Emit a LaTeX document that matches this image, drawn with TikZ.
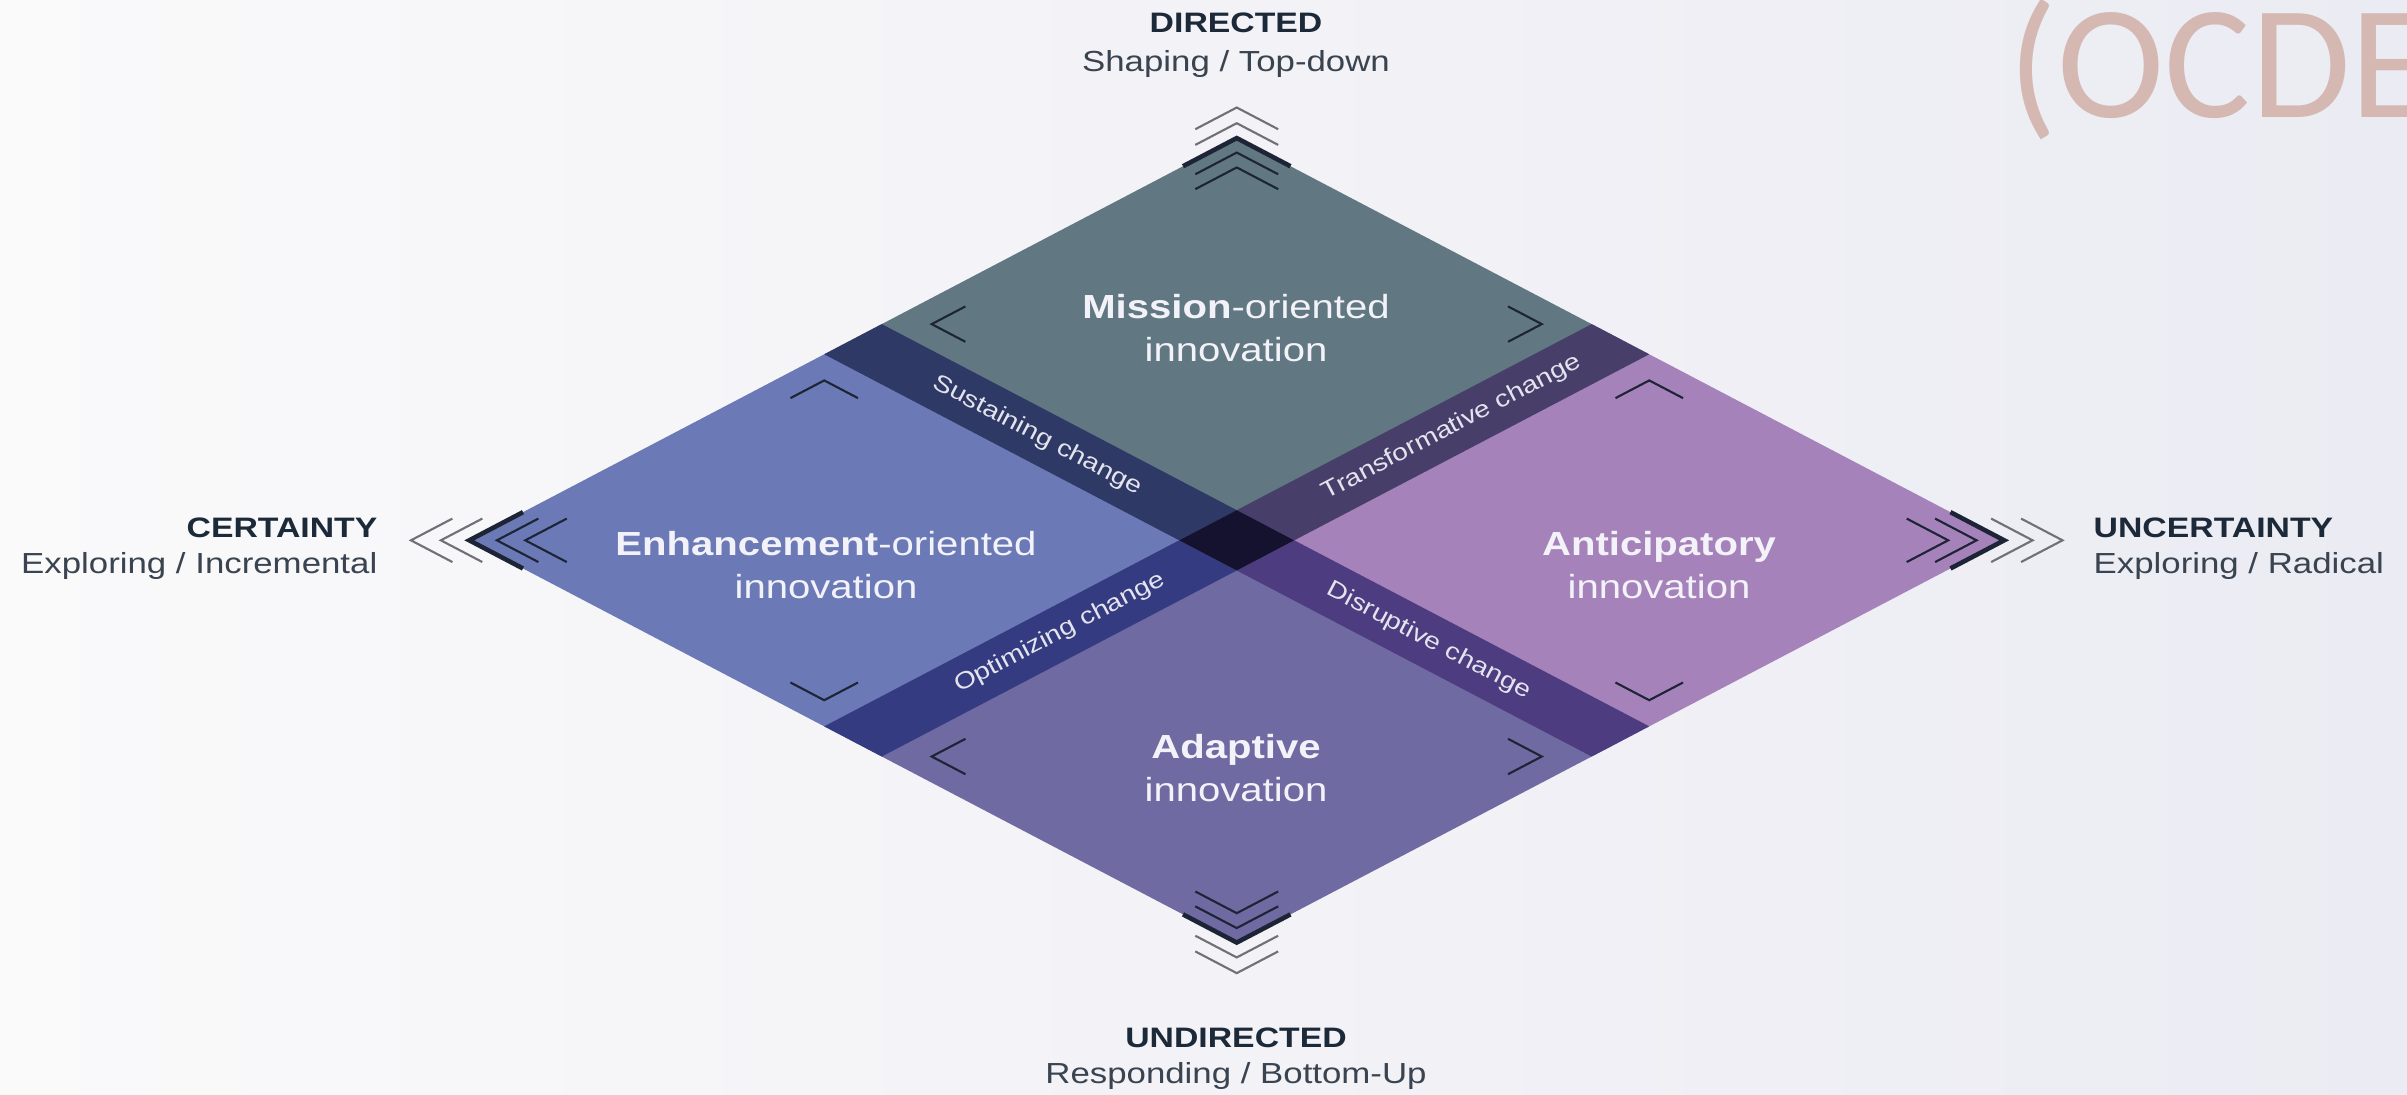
\documentclass[tikz,border=0pt]{standalone}
\usepackage{fontspec}
\setmainfont{Liberation Sans}[FakeStretch=1.2]
\newfontfamily\ocdefont{Carlito}
\definecolor{bgL}{HTML}{FAFAFB}
\definecolor{bgR}{HTML}{EBEBF3}
\definecolor{cMis}{HTML}{617882}
\definecolor{cEnh}{HTML}{6B7AB6}
\definecolor{cAnt}{HTML}{A682BB}
\definecolor{cAda}{HTML}{6F6AA2}
\definecolor{bSus}{HTML}{2E3966}
\definecolor{bTra}{HTML}{473F6A}
\definecolor{bOpt}{HTML}{353B80}
\definecolor{bDis}{HTML}{4D3C7F}
\definecolor{cCtr}{HTML}{15122F}
\definecolor{navy}{HTML}{1D2436}
\definecolor{grayc}{HTML}{707075}
\definecolor{headc}{HTML}{1C2939}
\definecolor{subc}{HTML}{3A4450}
\definecolor{qtextc}{HTML}{F2F2F8}
\definecolor{btextc}{HTML}{E4E4EE}
\definecolor{ocdec}{HTML}{D4B8B1}
\def\chevD{0.065}
\def\chevL{0.088}
\def\armA{0.108}
\def\thk{0.14}
\def\bw{0.075}
% quadrant corner chevron: pc qc sp sq
\newcommand{\qchev}[4]{%
  \draw[qchevst] ({#1+#3*(\chevD+\chevL)},{#2+#4*\chevD}) -- ({#1+#3*\chevD},{#2+#4*\chevD}) -- ({#1+#3*\chevD},{#2+#4*(\chevD+\chevL)});}
% vertex chevron: vp vq d style
\newcommand{\vchev}[4]{%
  \draw[#4] ({#1*(1-#3)-#1*\armA},{#2*(1-#3)}) -- ({#1*(1-#3)},{#2*(1-#3)}) -- ({#1*(1-#3)},{#2*(1-#3)-#2*\armA});}
\newcommand{\vthick}[2]{%
  \draw[thickst] ({#1*(1-\thk)},#2) -- (#1,#2) -- (#1,{#2*(1-\thk)});}
\begin{document}
\begin{tikzpicture}[x=0.01cm,y=-0.01cm,
  qchevst/.style={draw=navy,line width=0.6pt},
  inchev/.style={draw=navy,line width=0.6pt},
  outchev/.style={draw=grayc,line width=0.6pt},
  thickst/.style={draw=navy,line width=1.3pt,line join=miter},
  qtxt/.style={text=qtextc,align=center,font=\fontsize{9.5}{12.2}\selectfont},
  btxt/.style={text=btextc,font=\fontsize{6.7}{8}\selectfont,inner sep=0pt},
  head/.style={text=headc,font=\fontsize{8}{9}\selectfont\bfseries,inner sep=0pt},
  sub/.style={text=subc,font=\fontsize{8.25}{9.5}\selectfont,inner sep=0pt}]
\useasboundingbox (0,0) rectangle (2407,1094);
\shade[left color=bgL,right color=bgR] (0,0) rectangle (2407,1094);

\begin{scope}[shift={(12.36cm,-5.40cm)},x={(3.835cm,2.01cm)},y={(-3.835cm,2.01cm)}]
  % quadrants
  \fill[cMis] (0,0) -- (1,0) -- (1,1) -- (0,1) -- cycle;
  \fill[cAnt] (0,0) -- (1,0) -- (1,-1) -- (0,-1) -- cycle;
  \fill[cAda] (0,0) -- (-1,0) -- (-1,-1) -- (0,-1) -- cycle;
  \fill[cEnh] (0,0) -- (-1,0) -- (-1,1) -- (0,1) -- cycle;
  % bands
  \fill[bSus] (-\bw,\bw) -- (\bw,\bw) -- (\bw,1) -- (-\bw,1) -- cycle;
  \fill[bDis] (-\bw,-\bw) -- (\bw,-\bw) -- (\bw,-1) -- (-\bw,-1) -- cycle;
  \fill[bTra] (\bw,-\bw) -- (1,-\bw) -- (1,\bw) -- (\bw,\bw) -- cycle;
  \fill[bOpt] (-\bw,-\bw) -- (-1,-\bw) -- (-1,\bw) -- (-\bw,\bw) -- cycle;
  \fill[cCtr] (-\bw,-\bw) -- (\bw,-\bw) -- (\bw,\bw) -- (-\bw,\bw) -- cycle;
  % band labels
  \node[btxt,rotate=-27.66] (sus) at (0,0.52) {Sustaining change};
  \node[btxt,rotate=27.66] (tra) at (0.56,0) {Transformative change};
  \node[btxt,rotate=27.66] (opt) at (-0.46,0) {Optimizing change};
  \node[btxt,rotate=-27.66] (dis) at (0,-0.5) {Disruptive change};
  % quadrant corner chevrons
  \qchev{\bw}{1}{1}{-1}
  \qchev{1}{\bw}{-1}{1}
  \qchev{1}{-\bw}{-1}{-1}
  \qchev{\bw}{-1}{1}{1}
  \qchev{-1}{-\bw}{1}{-1}
  \qchev{-\bw}{-1}{-1}{1}
  \qchev{-\bw}{1}{-1}{-1}
  \qchev{-1}{\bw}{1}{1}
  % vertex decorations
  \foreach \vp/\vq in {1/1,1/-1,-1/-1,-1/1}{
    \vthick{\vp}{\vq}
    \vchev{\vp}{\vq}{0.036}{inchev}
    \vchev{\vp}{\vq}{0.073}{inchev}
    \vchev{\vp}{\vq}{-0.037}{outchev}
    \vchev{\vp}{\vq}{-0.076}{outchev}
  }
\end{scope}

% quadrant titles
\node[qtxt] (mis) at (1236,328) {\textbf{Mission}-oriented\\innovation};
\node[qtxt] (enh) at (826,565) {\textbf{Enhancement}-oriented\\innovation};
\node[qtxt] (ant) at (1659,565) {\textbf{Anticipatory}\\innovation};
\node[qtxt] (ada) at (1236,768) {\textbf{Adaptive}\\innovation};

% axis labels
\node[head,anchor=base] (dir) at (1236,33) {DIRECTED};
\node[sub,anchor=base] (dirs) at (1236,72) {Shaping / Top-down};
\node[head,anchor=base] (und) at (1236,1047) {UNDIRECTED};
\node[sub,anchor=base] (unds) at (1236,1083) {Responding / Bottom-Up};
\node[head,anchor=base east] (cer) at (378,537) {CERTAINTY};
\node[sub,anchor=base east] (cers) at (378,573) {Exploring / Incremental};
\node[head,anchor=base west] (unc) at (2093,537) {UNCERTAINTY};
\node[sub,anchor=base west] (uncs) at (2093,573) {Exploring / Radical};

% overlay text
\node[anchor=base west,inner sep=0pt,text=ocdec,font=\ocdefont\fontsize{46}{50}\selectfont] (ocde) at (2008,118) {(OCDE};
\end{tikzpicture}
\end{document}
